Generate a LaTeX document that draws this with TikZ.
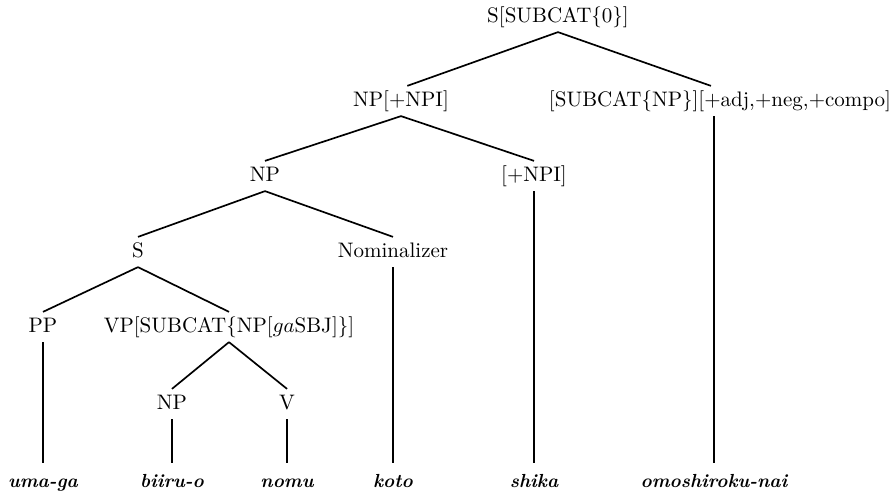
\documentclass[tikz,border=0pt]{standalone}
\usepackage{tikz}

\begin{document}
\begin{tikzpicture}[x=0.476pt, y=-0.476pt,
	cat/.style={inner sep=2pt, text height=7.5pt, text depth=2.5pt},
	word/.style={font=\small\bfseries\itshape, inner xsep=0pt, inner ysep=5pt,
		text height=1.6ex, text depth=.45ex, anchor=base},
	branch/.style={line width=0.8pt}]
	\useasboundingbox (0,0) rectangle (895,491);
	% categories
	\node[cat] (root) at (558,17) {S[SUBCAT\{0\}]};
	\node[cat] (npnpi) at (401,101) {NP[+NPI]};
	\node[cat] (feat) at (720,101) {[SUBCAT\{NP\}][+adj,+neg,+compo]};
	\node[cat] (np) at (265,176) {NP};
	\node[cat] (npi) at (534,176) {[+NPI]};
	\node[cat] (s) at (138,252) {S};
	\node[cat] (nom) at (393,252) {Nominalizer};
	\node[cat] (pp) at (43,327) {PP};
	\node[cat] (vp) at (229,327) {VP[SUBCAT\{NP[$ga$SBJ]\}]};
	\node[cat] (obj) at (172,404) {NP};
	\node[cat] (v) at (287,404) {V};
	% words
	\node[word] (umaga) at (43,488) {uma-ga};
	\node[word] (biiruo) at (172,488) {biiru-o};
	\node[word] (nomu) at (287,488) {nomu};
	\node[word] (koto) at (393,488) {koto};
	\node[word] (shika) at (534,488) {shika};
	\node[word] (omoshiroku) at (714,488) {omoshiroku-nai};
	
	\draw[branch] (root.south) -- ([xshift=3pt]npnpi.north);
	\draw[branch] (root.south) -- ([xshift=-4.3pt]feat.north);
	\draw[branch] (npnpi.south) -- (np.north);
	\draw[branch] (npnpi.south) -- (npi.north);
	\draw[branch] (np.south) -- (s.north);
	\draw[branch] (np.south) -- (nom.north);
	\draw[branch] (s.south) -- (pp.north);
	\draw[branch] (s.south) -- (vp.north);
	\draw[branch] (vp.south) -- (obj.north);
	\draw[branch] (vp.south) -- (v.north);
	\draw[branch] (pp.south) -- (umaga.north);
	\draw[branch] (obj.south) -- (biiruo.north);
	\draw[branch] (v.south) -- (nomu.north);
	\draw[branch] (nom.south) -- (koto.north);
	\draw[branch] (npi.south) -- (shika.north);
	\draw[branch] (omoshiroku.north |- feat.south) -- (omoshiroku.north);
\end{tikzpicture}
\end{document}
